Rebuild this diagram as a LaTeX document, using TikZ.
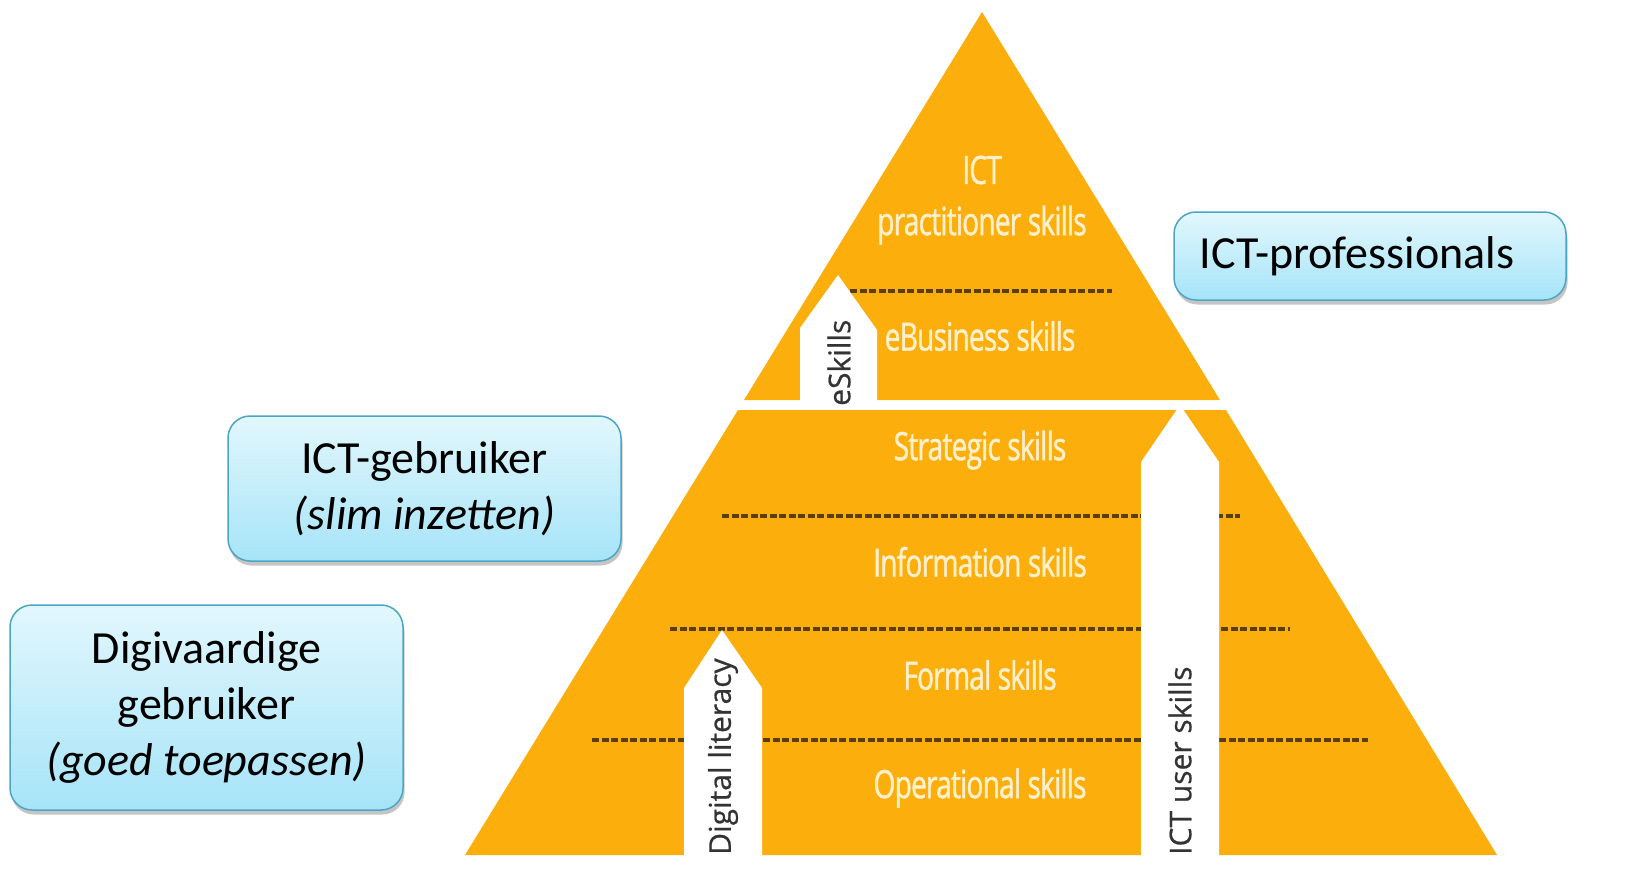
\documentclass[tikz,border=0pt]{standalone}
\usepackage{fontspec}
\setmainfont{Carlito}
\newfontfamily\pyrfont[FakeStretch=0.72,FakeBold=1.2,LetterSpace=-2]{Open Sans}
\newfontfamily\arrfont[FakeBold=0.6]{Open Sans}
\usetikzlibrary{shadows}
\definecolor{pyr}{HTML}{FBAE0C}
\definecolor{pyrtxt}{HTML}{FFF0CC}
\definecolor{boxtop}{HTML}{E2F7FD}
\definecolor{boxbot}{HTML}{A6E4F8}
\definecolor{boxline}{HTML}{4BA6C4}
\definecolor{dashc}{HTML}{5A3E0E}
\begin{document}
\begin{tikzpicture}[x=1pt,y=-1pt,
  rolebox/.style={draw=boxline, line width=1.5pt, rounded corners=22pt,
    top color=boxtop, bottom color=boxbot,
    drop shadow={shadow xshift=1.5pt,shadow yshift=-4.5pt,opacity=0.45},
    align=center, font=\fontsize{46}{56}\selectfont, inner sep=0pt},
  layertxt/.style={text=pyrtxt, font=\pyrfont\fontsize{39}{42}\selectfont, inner sep=0pt},
  arrtxt/.style={text=black!80, font=\arrfont\fontsize{30}{34}\selectfont, rotate=90, inner sep=0pt, anchor=west},
  sepline/.style={dashc, line width=3.2pt, dash pattern=on 7pt off 2.5pt},
  upshape/.style={fill=white, draw=none}]

\useasboundingbox (0,0) rectangle (1629,891);
\fill[white] (0,0) rectangle (1629,891);

% pyramid parts
\fill[pyr] (982,12) -- (1220,400) -- (744,400) -- cycle;
\fill[pyr] (738,410) -- (1226,410) -- (1497,855) -- (465,855) -- cycle;

% separators
\draw[sepline] (850,291) -- (1112,291);
\draw[sepline] (722,516) -- (1240,516);
\draw[sepline] (670,629) -- (1290,629);
\draw[sepline] (592,740) -- (1368,740);

% white up-arrows
\fill[upshape] (800,401) -- (800,328) -- (838,275) -- (877,330) -- (877,401) -- cycle;
\fill[upshape] (684,856) -- (684,688) -- (722,630) -- (762,688) -- (762,856) -- cycle;
\fill[upshape] (1141,856) -- (1141,462) -- (1180,405) -- (1219,462) -- (1219,856) -- cycle;

% layer labels
\node[layertxt] (ict) at (982,170) {ICT};
\node[layertxt] (prac) at (982,225) {practitioner skills};
\node[layertxt] (ebus) at (980,336) {eBusiness skills};
\node[layertxt] (strat) at (980,450) {Strategic skills};
\node[layertxt] (info) at (980,562) {Information skills};
\node[layertxt] (formal) at (980,675) {Formal skills};
\node[layertxt] (oper) at (980,788) {Operational skills};

% arrow labels
\node[arrtxt] (esk) at (839,406) {eSkills};
\node[arrtxt] (dig) at (723,855) {Digital literacy};
\node[arrtxt] (usr) at (1180,855) {ICT user skills};

% role boxes
\node[rolebox, minimum width=392pt, minimum height=88pt] (prof) at (1370,256) {\hspace*{-26pt}ICT-professionals};
\node[rolebox, minimum width=393pt, minimum height=145pt] (user) at (424.5,488.5) {ICT-gebruiker\\\textit{(slim inzetten)}};
\node[rolebox, minimum width=393pt, minimum height=205pt] (digi) at (206.5,707.5) {Digivaardige\\gebruiker\\\textit{(goed toepassen)}};
\end{tikzpicture}
\end{document}
